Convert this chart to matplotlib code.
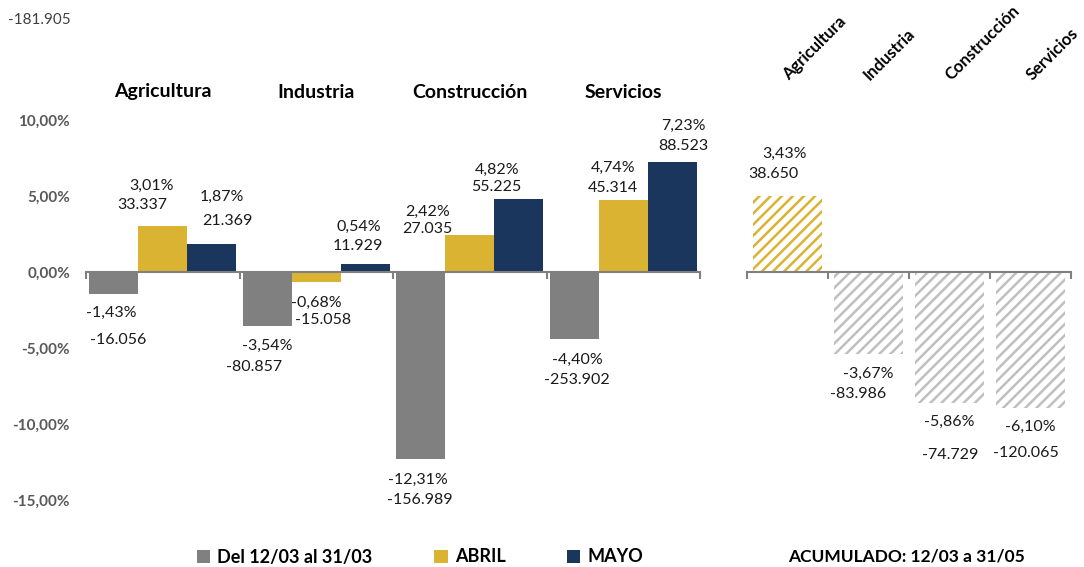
import matplotlib.pyplot as plt
from matplotlib.patches import Patch
from matplotlib.transforms import blended_transform_factory

plt.rcParams['font.family'] = ['Lato', 'DejaVu Sans']
plt.rcParams['hatch.linewidth'] = 1.8

# dati
sectores = ['Agricultura', 'Industria', 'Construcción', 'Servicios']
series = ['Del 12/03 al 31/03', 'ABRIL', 'MAYO']
pct_marzo = [-1.43, -3.54, -12.31, -4.40]
pct_abril = [3.01, -0.68, 2.42, 4.74]
pct_mayo = [1.87, 0.54, 4.82, 7.23]
num_marzo = ['-16.056', '-80.857', '-156.989', '-253.902']
num_abril = ['33.337', '-15.058', '27.035', '45.314']
num_mayo = ['21.369', '11.929', '55.225', '88.523']
pct_acum = [3.43, -3.67, -5.86, -6.10]
num_acum = ['38.650', '-83.986', '-74.729', '-120.065']
yticks = [-15, -10, -5, 0, 5, 10]

c_gris = '#808080'
c_amar = '#DBB333'
c_azul = '#1B365D'
c_txt = '#1a1a1a'

# spostamenti delle etichette (pixel): (dx_pct, dy_pct, dx_num, dy_num)
off_marzo = [(-2, -19, 5, -46), (0, -20, -13, -41), (-3, -21, -1, -41), (3, -21, 3, -41)]
off_abril = [(-11, 40, -20, 21), (0, -21, 7, -38), (-42, 23, -42, 6), (-10, 32, -10, 12)]
off_mayo = [(10, 47, 16, 23), (-7, 37, -7, 18), (-22, 29, -23, 12), (11, 36, 11, 16)]
off_acum = [(-3, 42, -14, 22), (0, -20, -10, -40), (0, -19, 1, -52), (0, -19, -5, -45)]

fig = plt.figure(figsize=(10.84, 5.67), dpi=100)
W, H = 1084, 567
ax = fig.add_axes([86 / W, 1 - 500 / H, (700 - 86) / W, 380 / H])
ax2 = fig.add_axes([747 / W, 1 - 500 / H, (1071 - 747) / W, 380 / H])


def fmt_pct(v):
    return f'{v:.2f}%'.replace('.', ',')


def etichetta(a, x, v, n, off):
    dxp, dyp, dxn, dyn = off
    a.annotate(fmt_pct(v), (x, v), xytext=(dxp, dyp), textcoords='offset pixels',
               ha='center', va='center', fontsize=11.5, color=c_txt)
    a.annotate(n, (x, v), xytext=(dxn, dyn), textcoords='offset pixels',
               ha='center', va='center', fontsize=11.5, color=c_txt)


# grafico di sinistra
w = 0.32
xs = list(range(len(sectores)))
gruppi = [(pct_marzo, num_marzo, off_marzo, c_gris, -w),
          (pct_abril, num_abril, off_abril, c_amar, 0),
          (pct_mayo, num_mayo, off_mayo, c_azul, w)]
for vals, nums, offs, col, dx in gruppi:
    pos = [x + dx for x in xs]
    ax.bar(pos, vals, width=w, color=col, linewidth=0)
    for p, v, n, o in zip(pos, vals, nums, offs):
        etichetta(ax, p, v, n, o)

ax.set_xlim(-0.5, 3.5)
ax.set_ylim(-15, 10)
ax.set_yticks(yticks)
ax.set_yticklabels([fmt_pct(t) for t in yticks], fontsize=11, fontweight='bold', color='#595959')
ax.tick_params(axis='y', length=0, pad=11.5)
ax.set_xticks([-0.5, 0.5, 1.5, 2.5, 3.5])
ax.set_xticklabels([])
ax.tick_params(axis='x', direction='out', length=5, color='#808080', width=1.5)
for s in ['left', 'right', 'top']:
    ax.spines[s].set_visible(False)
ax.spines['bottom'].set_position(('data', 0))
ax.spines['bottom'].set_color('#808080')
ax.spines['bottom'].set_linewidth(1.5)

tr = blended_transform_factory(ax.transData, fig.transFigure)
for x, s in zip(xs, sectores):
    ax.text(x, 1 - 92 / H, s, transform=tr, ha='center', va='center',
            fontsize=14, fontweight='bold', color='black')

# grafico di destra (acumulado)
col_acum = [c_amar if v > 0 else '#BFBFBF' for v in pct_acum]
ax2.bar(xs, pct_acum, width=0.85, color='white', edgecolor=col_acum, hatch='///', linewidth=0)
for x, v, n, o in zip(xs, pct_acum, num_acum, off_acum):
    etichetta(ax2, x, v, n, o)
ax2.set_xlim(-0.5, 3.5)
ax2.set_ylim(-228 / 22.3, 152 / 22.3)
ax2.set_yticks([])
ax2.set_xticks([-0.5, 0.5, 1.5, 2.5, 3.5])
ax2.set_xticklabels([])
ax2.tick_params(axis='x', direction='out', length=5, color='#808080', width=1.5)
for s in ['left', 'right', 'top']:
    ax2.spines[s].set_visible(False)
ax2.spines['bottom'].set_position(('data', 0))
ax2.spines['bottom'].set_color('#808080')
ax2.spines['bottom'].set_linewidth(1.5)

tr2 = blended_transform_factory(ax2.transData, fig.transFigure)
for x, s in zip(xs, sectores):
    ax2.text(x + 0.02, 1 - 81 / H, s, transform=tr2, ha='left', va='baseline',
             rotation=45, rotation_mode='anchor', fontsize=12, fontweight='bold', color='black')

# testo isolato in alto
fig.text(8 / W, 1 - 20 / H, '-181.905', ha='left', va='center', fontsize=11, color='#404040')

# legenda
handles = [Patch(facecolor=c, edgecolor='none') for c in [c_gris, c_amar, c_azul]]
leg = fig.legend(handles, series, loc='center', bbox_to_anchor=(420 / W, 1 - 557 / H), ncol=3,
                 frameon=False, handlelength=0.75, handleheight=0.75, handletextpad=0.4,
                 columnspacing=3.4, prop={'weight': 'bold', 'size': 13})
fig.text(906 / W, 1 - 557 / H, 'ACUMULADO: 12/03 a 31/05', ha='center', va='center',
         fontsize=12.5, fontweight='bold', color='black')

plt.savefig('out.png', dpi=100)
